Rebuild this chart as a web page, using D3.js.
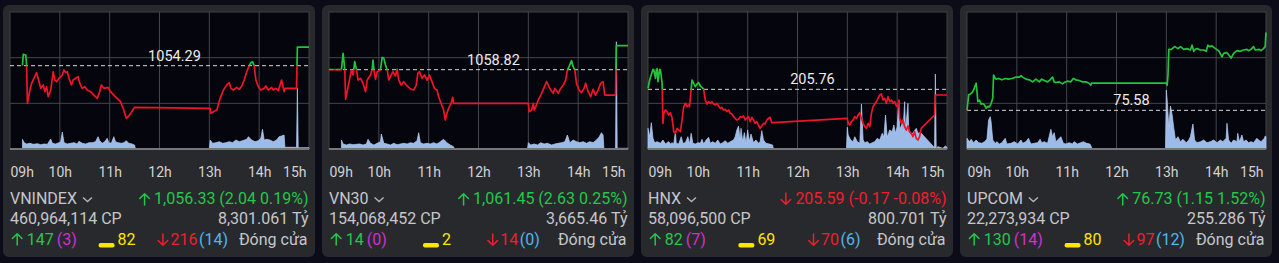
<!doctype html>
<html lang="vi">
<head>
    <meta charset="UTF-8">
    <title>Chỉ số thị trường</title>
    <script src="https://cdn.jsdelivr.net/npm/d3@7"></script>
    <style>
        html, body { margin: 0; padding: 0; background: #0b0c17; }
        svg { display: block; font-family: Roboto, "Noto Sans", sans-serif; }
    </style>
</head>
<body>
<div class="canvas"></div>
<script>
  // ---- dữ liệu ----
  const names = ['VNINDEX', 'VN30', 'HNX', 'UPCOM'];
  const refPrices = [1054.29, 1058.82, 205.76, 75.58];
  const closePrices = [1056.33, 1061.45, 205.59, 76.73];
  const changes = [2.04, 2.63, -0.17, 1.15];
  const changePct = [0.19, 0.25, -0.08, 1.52];
  const shares = [460964114, 154068452, 58096500, 22273934];
  const valueTy = ['8,301.061', '3,665.46', '800.701', '255.286'];
  const advances = [147, 14, 82, 130];
  const ceilings = [3, 0, 7, 14];
  const unchanged = [82, 2, 69, 80];
  const declines = [216, 14, 70, 97];
  const floors = [14, 0, 6, 12];
  const priceDomains = [[1045.18, 1060.16], [1050.13, 1065.14], [203.97, 208.08], [75.01, 77.03]];
  const statusText = 'Đóng cửa';

  const vnindexPrice = [["09:15",1054.29],["09:16",1055.53],["09:19",1055.46],["09:20",1054.29],["09:21",1050.17],["09:24",1051.63],["09:26",1052.36],["09:32",1053.52],["09:35",1052.54],["09:37",1051.81],["09:40",1052.18],["09:42",1051.45],["09:44",1051.99],["09:46",1050.90],["09:49",1051.63],["09:52",1053.63],["09:54",1052.72],["09:56",1052.54],["09:59",1052.91],["10:03",1053.27],["10:05",1053.82],["10:07",1053.52],["10:09",1053.63],["10:11",1052.91],["10:14",1052.18],["10:16",1052.72],["10:19",1052.91],["10:22",1053.09],["10:24",1052.36],["10:27",1051.81],["10:30",1051.99],["10:33",1051.63],["10:37",1051.45],["10:41",1051.08],["10:45",1050.72],["10:48",1051.45],["10:50",1052.18],["10:53",1051.81],["10:58",1051.92],["11:01",1051.45],["11:05",1051.08],["11:09",1050.72],["11:13",1050.36],["11:17",1049.44],["11:20",1048.53],["11:24",1048.90],["11:30",1049.74],["13:01",1049.63],["13:02",1049.08],["13:05",1049.26],["13:09",1049.44],["13:13",1050.72],["13:17",1051.63],["13:21",1052.18],["13:24",1052.43],["13:26",1051.81],["13:29",1051.63],["13:33",1051.92],["13:36",1051.70],["13:39",1052.07],["13:42",1052.72],["13:45",1053.63],["13:48",1054.29],["13:50",1054.62],["13:52",1054.73],["13:54",1054.29],["13:56",1052.72],["13:59",1051.99],["14:02",1051.63],["14:06",1051.81],["14:08",1052.07],["14:11",1051.63],["14:15",1051.92],["14:17",1051.63],["14:20",1051.81],["14:23",1051.56],["14:27",1052.72],["14:30",1051.45],["14:31",1051.81],["14:45",1051.81],["14:46",1056.33],["15:00",1056.33]];
  const vnindexVolume = [["09:15",9.7],["09:17",6.3],["09:20",5],["09:24",5.7],["09:28",4.7],["09:33",5.3],["09:37",4.3],["09:41",5],["09:45",4.7],["09:49",10],["09:51",5.7],["09:55",5],["09:59",6.3],["10:01",7.3],["10:03",17],["10:05",6.3],["10:09",5],["10:13",5.7],["10:17",6.3],["10:21",5],["10:23",7.7],["10:27",5.7],["10:31",5],["10:35",6.3],["10:39",6.3],["10:43",7.3],["10:46",12.3],["10:48",8.3],["10:51",5.7],["10:54",7.3],["10:57",10.7],["10:59",6.3],["11:02",5.7],["11:05",12.3],["11:07",7.3],["11:10",6.3],["11:14",5.7],["11:17",6.3],["11:20",8.3],["11:23",5.7],["11:27",5],["11:30",4],["11:31",0],["13:00",0],["13:01",9],["13:04",5.7],["13:08",6.3],["13:12",7.3],["13:16",5.7],["13:20",6.3],["13:24",7.3],["13:28",6.3],["13:32",9],["13:36",7.3],["13:40",8.3],["13:45",9.7],["13:47",12.3],["13:51",9],["13:55",7.3],["13:59",8.3],["14:02",10.7],["14:04",19.7],["14:06",9],["14:09",9.7],["14:13",9],["14:17",7.3],["14:21",9],["14:24",12.3],["14:27",13],["14:30",14],["14:31",1.7],["14:44",1.7],["14:45",0],["14:46",60.7],["14:47",1.3],["15:00",1.3]];

  const vn30Price = [["09:00",1058.82],["09:15",1058.82],["09:17",1060.61],["09:19",1058.82],["09:20",1055.57],["09:23",1056.96],["09:27",1058.78],["09:29",1058.24],["09:31",1059.70],["09:33",1058.82],["09:35",1057.69],["09:38",1057.87],["09:41",1057.32],["09:44",1056.41],["09:46",1057.69],["09:50",1058.24],["09:52",1058.82],["09:53",1059.88],["09:54",1058.82],["09:56",1057.76],["09:58",1058.60],["10:02",1058.82],["10:04",1060.17],["10:06",1060.06],["10:08",1059.33],["10:10",1058.82],["10:12",1057.69],["10:14",1058.05],["10:17",1058.60],["10:20",1058.13],["10:22",1058.86],["10:24",1057.69],["10:27",1057.14],["10:30",1057.51],["10:33",1057.14],["10:36",1056.88],["10:39",1056.67],["10:42",1056.59],["10:45",1057.14],["10:47",1058.42],["10:49",1058.60],["10:52",1057.87],["10:55",1058.24],["10:58",1057.69],["11:01",1058.24],["11:04",1057.51],["11:07",1056.77],["11:10",1056.59],["11:12",1055.86],["11:15",1055.13],["11:18",1054.40],["11:20",1053.31],["11:22",1054.04],["11:24",1054.58],["11:27",1055.13],["11:29",1055.79],["11:30",1055.13],["13:00",1055.13],["13:01",1054.22],["13:04",1054.40],["13:06",1055.13],["13:07",1054.40],["13:09",1054.77],["13:12",1055.50],["13:16",1056.23],["13:19",1056.88],["13:22",1057.51],["13:24",1057.14],["13:27",1056.59],["13:30",1056.23],["13:32",1056.77],["13:36",1056.23],["13:39",1056.77],["13:42",1057.14],["13:45",1057.69],["13:47",1058.78],["13:49",1059.15],["13:52",1059.81],["13:54",1059.15],["13:56",1058.78],["13:58",1057.32],["14:01",1056.59],["14:04",1056.30],["14:07",1056.77],["14:09",1057.32],["14:12",1056.41],["14:15",1055.86],["14:18",1056.67],["14:21",1056.04],["14:24",1056.59],["14:27",1057.32],["14:30",1057.51],["14:32",1056.04],["14:45",1056.04],["14:46",1061.45],["15:00",1061.45]];
  const vn30Volume = [["09:15",9],["09:17",5],["09:21",4],["09:25",5],["09:29",4.3],["09:33",4.7],["09:37",5],["09:41",4],["09:45",5],["09:47",9.7],["09:50",5.7],["09:54",4],["09:58",5.7],["10:02",7.3],["10:03",15],["10:06",5.7],["10:10",5],["10:14",4],["10:18",5.7],["10:22",4.3],["10:26",5],["10:30",5.7],["10:34",5],["10:38",6.3],["10:42",5.7],["10:46",8.3],["10:48",16.3],["10:50",6.3],["10:54",5],["10:58",5.7],["11:02",5],["11:06",6.3],["11:10",5],["11:14",7.3],["11:18",9.7],["11:22",6.3],["11:26",4],["11:30",2.3],["11:31",0],["12:59",0],["13:00",6.3],["13:03",4],["13:07",5],["13:11",4],["13:15",6.3],["13:19",5],["13:23",5.7],["13:28",4],["13:32",5],["13:36",5.7],["13:40",6.3],["13:44",7.3],["13:47",14],["13:50",6.3],["13:54",9],["13:58",7.3],["14:02",6.3],["14:06",7.3],["14:10",5.7],["14:14",7.3],["14:18",6.3],["14:22",9],["14:25",11.7],["14:28",16.3],["14:30",14],["14:31",0],["14:45",0],["14:46",107.3],["14:47",0.7],["15:00",0.7]];

  const hnxPrice = [["09:00",205.79],["09:02",206.04],["09:06",206.36],["09:07",206.34],["09:09",206.09],["09:10",206.34],["09:11",206.38],["09:12",205.99],["09:14",206.36],["09:15",206.34],["09:17",205.94],["09:18",204.74],["09:19",205.04],["09:21",205.14],["09:23",205.09],["09:25",204.99],["09:27",205.06],["09:29",204.89],["09:31",204.49],["09:33",204.44],["09:35",204.59],["09:37",204.54],["09:39",204.49],["09:41",204.84],["09:43",205.24],["09:45",205.34],["09:47",205.24],["09:49",205.29],["09:50",205.24],["09:52",205.76],["09:53",206.04],["09:55",205.94],["09:57",205.84],["09:59",205.92],["10:01",205.96],["10:03",205.86],["10:05",205.82],["10:07",205.76],["10:09",205.44],["10:11",205.32],["10:13",205.39],["10:15",205.34],["10:17",205.39],["10:19",205.32],["10:21",205.29],["10:23",205.34],["10:25",205.26],["10:27",205.19],["10:29",205.22],["10:31",205.14],["10:33",205.16],["10:35",205.09],["10:37",205.14],["10:39",205.04],["10:41",205.02],["10:43",204.94],["10:45",204.89],["10:47",204.84],["10:49",204.86],["10:51",204.94],["10:53",204.92],["10:55",204.96],["10:57",204.84],["10:59",204.89],["11:01",204.94],["11:03",204.79],["11:05",204.92],["11:07",204.84],["11:09",204.74],["11:11",204.79],["11:13",204.69],["11:15",204.59],["11:17",204.66],["11:19",204.74],["11:21",204.72],["11:23",204.84],["11:25",204.89],["11:27",204.92],["11:29",204.76],["11:30",204.76],["13:00",204.89],["13:01",204.74],["13:03",204.69],["13:05",204.79],["13:07",204.84],["13:09",204.94],["13:11",204.89],["13:13",204.99],["13:15",205.06],["13:17",204.89],["13:19",204.74],["13:21",204.64],["13:23",204.59],["13:25",204.74],["13:27",204.64],["13:29",205.04],["13:31",205.24],["13:33",205.32],["13:35",205.39],["13:37",205.49],["13:39",205.59],["13:41",205.62],["13:43",205.44],["13:45",205.49],["13:47",205.34],["13:49",205.54],["13:51",205.39],["13:53",205.44],["13:55",205.34],["13:57",205.39],["13:59",205.26],["14:01",205.24],["14:02",205.44],["14:03",204.89],["14:05",204.74],["14:07",204.84],["14:09",204.64],["14:11",204.54],["14:13",204.66],["14:15",204.49],["14:17",204.44],["14:19",204.34],["14:21",204.49],["14:23",204.29],["14:25",204.24],["14:27",204.34],["14:29",204.59],["14:45",204.99],["14:46",205.59],["15:00",205.59]];
  const hnxVolume = [["09:00",20.7],["09:02",12.3],["09:04",26.3],["09:06",10.7],["09:08",6.3],["09:11",7.3],["09:15",5.7],["09:18",9],["09:21",5],["09:23",6.3],["09:25",7.3],["09:27",5],["09:29",6.3],["09:31",5],["09:33",17.3],["09:34",5.7],["09:37",5],["09:40",12.3],["09:42",5.7],["09:45",6.3],["09:48",12.3],["09:50",5],["09:52",15.7],["09:54",5.7],["09:57",5],["10:00",6.3],["10:03",5.7],["10:05",9.7],["10:07",5],["10:10",9],["10:13",11.7],["10:15",5.7],["10:18",7.3],["10:21",5.7],["10:24",9],["10:27",5],["10:30",6.3],["10:33",8.3],["10:36",5.7],["10:39",7.3],["10:43",9],["10:45",12.3],["10:47",19],["10:49",23],["10:51",9],["10:52",20.7],["10:54",7.3],["10:56",16.3],["10:58",5.7],["11:00",19],["11:02",7.3],["11:04",15],["11:07",6.3],["11:10",9],["11:13",5.7],["11:15",7.3],["11:17",18.3],["11:19",9],["11:22",5.7],["11:26",5],["11:30",4],["11:31",0],["12:59",0],["13:00",21.7],["13:01",14],["13:04",9],["13:07",7.3],["13:09",12.3],["13:12",7.3],["13:15",5.7],["13:17",45],["13:19",9],["13:21",6.3],["13:24",7.3],["13:27",5],["13:30",6.3],["13:33",7.3],["13:36",10.7],["13:39",9],["13:42",15.7],["13:44",11.7],["13:46",34],["13:48",11.7],["13:51",19],["13:54",17.3],["13:56",24],["13:58",15.7],["14:00",22.3],["14:02",49],["14:03",19],["14:06",25.7],["14:07",17.3],["14:09",47.3],["14:10",19],["14:13",45.7],["14:14",17.3],["14:17",14],["14:20",17.3],["14:23",20.7],["14:25",15.7],["14:27",16.3],["14:29",15.7],["14:44",2.3],["14:45",2],["14:46",75],["14:47",0.7],["14:49",2.3],["14:55",0.7],["14:58",3],["15:00",1.7]];

  const upcomPrice = [["09:00",75.58],["09:02",75.81],["09:04",75.82],["09:06",75.84],["09:08",75.88],["09:10",75.95],["09:11",75.98],["09:12",75.86],["09:13",75.71],["09:15",75.73],["09:17",75.67],["09:19",75.68],["09:21",75.66],["09:23",75.61],["09:25",75.64],["09:27",75.63],["09:29",75.68],["09:31",75.76],["09:32",76.10],["09:34",76.05],["09:35",76.04],["09:38",76.05],["09:42",76.03],["09:46",76.05],["09:50",76.04],["09:54",76.05],["09:59",76.07],["10:03",76.07],["10:05",76.09],["10:07",76.07],["10:11",76.04],["10:15",76.03],["10:19",76.00],["10:23",76.04],["10:27",76.00],["10:30",76.04],["10:33",76.02],["10:37",76.00],["10:40",76.03],["10:43",76.07],["10:45",76.00],["10:47",75.99],["10:51",76.00],["10:55",75.97],["10:57",75.99],["11:01",76.01],["11:05",76.00],["11:08",76.05],["11:11",76.03],["11:15",76.02],["11:19",76.00],["11:23",76.00],["11:27",75.98],["11:29",75.95],["11:30",75.98],["13:00",75.98],["13:01",75.95],["13:02",76.10],["13:03",76.48],["13:06",76.48],["13:10",76.52],["13:14",76.49],["13:17",76.52],["13:21",76.48],["13:25",76.49],["13:29",76.47],["13:31",76.54],["13:33",76.45],["13:35",76.48],["13:37",76.49],["13:41",76.47],["13:45",76.47],["13:48",76.45],["13:50",76.54],["13:52",76.52],["13:55",76.53],["13:59",76.49],["14:03",76.46],["14:07",76.37],["14:09",76.42],["14:13",76.43],["14:15",76.40],["14:18",76.35],["14:21",76.42],["14:25",76.46],["14:29",76.45],["14:33",76.47],["14:37",76.48],["14:39",76.46],["14:42",76.48],["14:45",76.52],["14:47",76.47],["14:52",76.48],["14:54",76.46],["14:57",76.49],["14:59",76.52],["15:00",76.73]];
  const upcomVolume = [["09:00",10.7],["09:03",7.3],["09:05",9.7],["09:08",6.3],["09:11",9],["09:14",6.3],["09:18",5.7],["09:21",7.3],["09:24",9.7],["09:26",29],["09:28",32.3],["09:29",27.3],["09:31",9],["09:34",5.7],["09:36",7.3],["09:39",5],["09:42",6.3],["09:46",10.7],["09:48",5],["09:53",5.7],["09:57",7.3],["10:01",5],["10:05",9],["10:07",5.7],["10:11",7.3],["10:14",10.7],["10:17",5],["10:21",5.7],["10:25",6.3],["10:28",9.7],["10:30",6.3],["10:33",7.3],["10:37",5.7],["10:41",19.7],["10:43",12.3],["10:45",16.3],["10:47",7.3],["10:50",9.7],["10:53",12.3],["10:56",5.7],["10:59",5],["11:03",6.3],["11:07",5],["11:09",7.3],["11:13",5],["11:17",6.3],["11:20",7.3],["11:24",5.7],["11:28",5],["11:31",0],["12:59",0],["13:00",59],["13:01",49],["13:03",22.3],["13:05",43],["13:07",34],["13:09",20.7],["13:11",9],["13:14",12.3],["13:17",7.3],["13:20",9.7],["13:24",6.3],["13:27",9],["13:29",12.3],["13:32",25],["13:34",9],["13:37",6.3],["13:41",7.3],["13:45",9],["13:49",6.3],["13:53",7.3],["13:57",9],["14:01",6.3],["14:05",9],["14:08",7.3],["14:12",10.7],["14:13",25.7],["14:15",9],["14:18",5.7],["14:21",9],["14:25",7.3],["14:26",15.7],["14:28",7.3],["14:31",14],["14:33",7.3],["14:36",9],["14:39",6.3],["14:42",7.3],["14:45",6.3],["14:49",10.7],["14:51",9],["14:54",7.3],["14:58",10.7],["14:59",13],["15:00",12.3]];

  const priceSeries = [vnindexPrice, vn30Price, hnxPrice, upcomPrice];
  const volumeSeries = [vnindexVolume, vn30Volume, hnxVolume, upcomVolume];

  // ---- khung ----
  const width = 1279, height = 263;
  const panelW = 312, panelH = 252, step = 319;
  const inset = 7;
  const plotW = 299, plotH = 137;

  const c = {
    up: '#22c84a', down: '#f01e2c', ceil: '#d22fd6', floor: '#4db8f0', flat: '#ffe600',
    text: '#c6c6ca', tick: '#d2d2d2', lineUp: '#22c43a', lineDown: '#f01428'
  };

  const svg = d3.select('.canvas').append('svg')
    .attr('width', width)
    .attr('height', height);

  const parseTime = d3.timeParse('%H:%M');
  const x = d3.scaleTime()
    .domain([parseTime('09:00'), parseTime('15:00')])
    .range([0, plotW]);
  const vol = d3.scaleLinear().domain([0, 137]).range([plotH, 0]);

  function arrow(sel, x0, base, dir, color) {
    const top = base - 12, cx = x0 + 5.5;
    const d = dir > 0
      ? `M${cx},${base}V${top + 1}M${x0 + 0.7},${top + 5.5}L${cx},${top + 0.7}L${x0 + 10.3},${top + 5.5}`
      : `M${cx},${top}V${base - 1}M${x0 + 0.7},${base - 5.5}L${cx},${base - 0.7}L${x0 + 10.3},${base - 5.5}`;
    sel.append('path')
      .attr('d', d)
      .attr('fill', 'none')
      .attr('stroke', color)
      .attr('stroke-width', 1.5)
      .attr('stroke-linecap', 'round')
      .attr('stroke-linejoin', 'round');
  }

  function txt(sel, xx, yy, color, s, anchor) {
    return sel.append('text')
      .attr('x', xx)
      .attr('y', yy)
      .attr('fill', color)
      .attr('text-anchor', anchor || 'start')
      .style('font-size', '16px')
      .text(s);
  }

  names.forEach((name, i) => {
    const panel = svg.append('g')
      .attr('transform', `translate(${3 + i * step}, 5)`);

    panel.append('rect')
      .attr('width', panelW)
      .attr('height', panelH)
      .attr('rx', 6)
      .attr('fill', '#28292d');

    const plot = panel.append('g')
      .attr('transform', `translate(${inset}, ${inset})`);

    plot.append('rect')
      .attr('width', plotW)
      .attr('height', plotH)
      .attr('fill', '#05050e')
      .attr('stroke', '#3e3f44');

    const y = d3.scaleLinear().domain(priceDomains[i]).range([plotH, 0]);
    const hours = x.ticks(d3.timeHour.every(1));

    // lưới
    plot.selectAll('.vgrid')
      .data(hours.slice(1, -1))
      .join('line')
      .attr('x1', d => x(d)).attr('x2', d => x(d))
      .attr('y1', 0).attr('y2', plotH)
      .attr('stroke', '#45464b');
    plot.selectAll('.hgrid')
      .data([1, 2])
      .join('line')
      .attr('x1', 0).attr('x2', plotW)
      .attr('y1', k => plotH * k / 3).attr('y2', k => plotH * k / 3)
      .attr('stroke', '#45464b');

    // khối lượng
    const area = d3.area()
      .x(d => x(parseTime(d[0])))
      .y0(plotH)
      .y1(d => vol(d[1]));
    plot.append('path')
      .datum(volumeSeries[i])
      .attr('d', area)
      .attr('fill', '#9dbbe8')
      .attr('stroke', '#b8cff2')
      .attr('stroke-width', 0.7);

    plot.append('line')
      .attr('x1', 0).attr('x2', plotW)
      .attr('y1', plotH).attr('y2', plotH)
      .attr('stroke', '#76777c')
      .attr('stroke-width', 2);

    // tham chiếu
    const yRef = y(refPrices[i]);
    plot.append('line')
      .attr('x1', 0).attr('x2', plotW)
      .attr('y1', yRef).attr('y2', yRef)
      .attr('stroke', '#d6d6d6')
      .attr('stroke-dasharray', '4,3');
    plot.append('text')
      .attr('x', plotW * 0.55)
      .attr('y', yRef - 5)
      .attr('text-anchor', 'middle')
      .attr('fill', '#ececec')
      .style('font-size', '14.5px')
      .text(refPrices[i].toFixed(2));

    // giá
    const line = d3.line()
      .x(d => x(parseTime(d[0])))
      .y(d => y(d[1]));
    const upId = `clip-up-${i}`, dnId = `clip-dn-${i}`;
    plot.append('clipPath').attr('id', upId)
      .append('rect').attr('x', -2).attr('y', -10).attr('width', plotW + 4).attr('height', yRef + 10);
    plot.append('clipPath').attr('id', dnId)
      .append('rect').attr('x', -2).attr('y', yRef).attr('width', plotW + 4).attr('height', plotH - yRef + 10);
    [[upId, c.lineUp], [dnId, c.lineDown]].forEach(([id, col]) => {
      plot.append('path')
        .datum(priceSeries[i])
        .attr('d', line)
        .attr('fill', 'none')
        .attr('stroke', col)
        .attr('stroke-width', 1.7)
        .attr('stroke-linejoin', 'round')
        .attr('clip-path', `url(#${id})`);
    });

    // trục thời gian
    const xAxis = d3.axisBottom(x)
      .ticks(d3.timeHour.every(1))
      .tickFormat(d3.timeFormat('%Hh'))
      .tickSize(0);
    const axisG = plot.append('g')
      .attr('transform', `translate(0, ${plotH})`)
      .call(xAxis);
    axisG.attr('font-family', null).attr('font-size', 14);
    axisG.select('.domain').remove();
    axisG.selectAll('text')
      .attr('y', 28)
      .attr('dy', 0)
      .attr('fill', c.tick)
      .attr('text-anchor', (d, j, n) => j === 0 ? 'start' : j === n.length - 1 ? 'end' : 'middle')
      .attr('dx', (d, j, n) => j === n.length - 1 ? -3 : 0);

    // dòng 1: tên + chỉ số
    const left = inset, right = inset + plotW - 0.5;
    const nameT = txt(panel, left, 199, c.text, name);
    const nw = nameT.node().getComputedTextLength();
    panel.append('path')
      .attr('d', `M${left + nw + 6},192.5L${left + nw + 10.5},196.5L${left + nw + 15},192.5`)
      .attr('fill', 'none')
      .attr('stroke', '#b4b4b8')
      .attr('stroke-width', 1.4);

    const isUp = changes[i] >= 0;
    const chCol = isUp ? c.up : c.down;
    const valT = txt(panel, right, 199, chCol,
      `${d3.format(',.2f')(closePrices[i])} (${changes[i].toFixed(2)} ${changePct[i].toFixed(2)}%)`, 'end');
    const vw = valT.node().getComputedTextLength();
    arrow(panel, right - vw - 15, 200, isUp ? 1 : -1, chCol);

    // dòng 2: khối lượng, giá trị
    txt(panel, left, 219, c.text, `${d3.format(',')(shares[i])} CP`);
    txt(panel, right, 219, c.text, `${valueTy[i]} Tỷ`, 'end');

    // dòng 3: tăng / đứng / giảm
    const row = 240;
    const gA = panel.append('g');
    arrow(gA, 0, row, 1, c.up);
    const a1 = txt(gA, 15, row, c.up, advances[i]);
    const a1w = a1.node().getComputedTextLength();
    const a2 = txt(gA, 15 + a1w + 3, row, c.ceil, `(${ceilings[i]})`);
    const wA = 15 + a1w + 3 + a2.node().getComputedTextLength();

    const gB = panel.append('g');
    gB.append('rect')
      .attr('x', 0).attr('y', row - 2).attr('width', 16).attr('height', 4.5).attr('rx', 2)
      .attr('fill', c.flat);
    const b1 = txt(gB, 19, row, c.flat, unchanged[i]);
    const wB = 19 + b1.node().getComputedTextLength();

    const gC = panel.append('g');
    arrow(gC, 0, row + 1, -1, c.down);
    const c1 = txt(gC, 13, row, c.down, declines[i]);
    const c1w = c1.node().getComputedTextLength();
    const c2 = txt(gC, 13 + c1w + 1.5, row, c.floor, `(${floors[i]})`);
    const wC = 13 + c1w + 1.5 + c2.node().getComputedTextLength();

    const dT = txt(panel, right - 1, row, c.text, statusText, 'end');
    const wD = dT.node().getComputedTextLength();

    const startX = inset + 1.7;
    const gap = (right - 1 - startX - (wA + wB + wC + wD)) / 2.5;
    gA.attr('transform', `translate(${startX},0)`);
    gB.attr('transform', `translate(${startX + wA + gap},0)`);
    gC.attr('transform', `translate(${startX + wA + wB + 2 * gap},0)`);
  });
</script>
</body>
</html>
